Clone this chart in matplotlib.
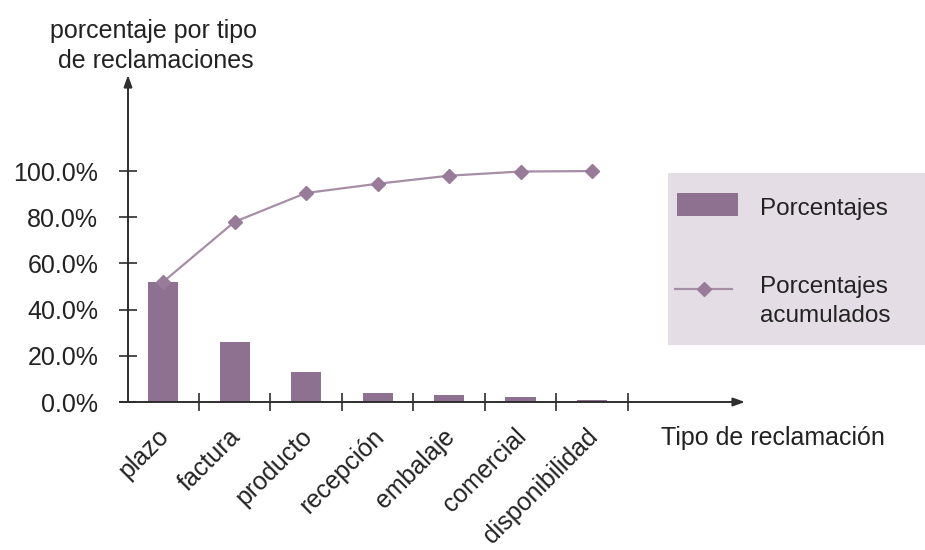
import matplotlib
matplotlib.use("Agg")
import matplotlib.pyplot as plt
from matplotlib.patches import Rectangle
from matplotlib.lines import Line2D
from matplotlib.transforms import ScaledTranslation
import numpy as np

plt.rcParams['font.family'] = ['Liberation Sans', 'DejaVu Sans']

categories = ["plazo", "factura", "producto", "recepción", "embalaje", "comercial", "disponibilidad"]
percentages = [52.0, 26.0, 13.0, 4.0, 3.0, 2.0, 1.0]
cumulative = [52.0, 78.0, 90.5, 94.5, 98.0, 99.8, 100.0]
y_ticks = [0, 20, 40, 60, 80, 100]
y_tick_labels = ["0.0%", "20.0%", "40.0%", "60.0%", "80.0%", "100.0%"]

bar_color = "#8e7191"
line_color = "#a78ea7"
marker_color = "#987a99"
axis_color = "#2e2e2e"
legend_bg = "#e5dde5"
text_color = "#222222"
fs = 18

W, H = 925, 550
fig = plt.figure(figsize=(W / 100, H / 100), dpi=100)

# axes placed in pixel terms: y axis at x=128, baseline at y=402, arrows ending at x=745 / y=75
left_px, right_px, bottom_px, top_px = 128, 745, 402, 75
ax = fig.add_axes([left_px / W, (H - bottom_px) / H, (right_px - left_px) / W, (bottom_px - top_px) / H])
x = np.arange(len(categories))
ax.set_xlim(-0.49, 8.14)
ax.set_ylim(0, 141.6)
for s in ax.spines.values():
    s.set_visible(False)
ax.patch.set_alpha(0)

ax.bar(x, percentages, width=0.42, color=bar_color, zorder=2)
ax.plot(x, cumulative, color=line_color, lw=1.6, marker="D", markersize=7,
        markerfacecolor=marker_color, markeredgecolor=marker_color, zorder=3)

# axes with arrows
arrow = dict(arrowstyle="-|>,head_length=0.7,head_width=0.25", color=axis_color, lw=1.4,
             shrinkA=0, shrinkB=0)
ax.annotate("", xy=(1.0, 0), xycoords="axes fraction", xytext=(-0.013, 0), arrowprops=arrow)
ax.annotate("", xy=(0, 1.0), xycoords="axes fraction", xytext=(0, 0), arrowprops=arrow)

# x ticks at category boundaries, labels at centres
ax.set_xticks(np.arange(len(categories)) + 0.5)
ax.set_xticklabels([])
ax.set_xticks(x, minor=True)
ax.set_xticklabels(categories, minor=True, rotation=45, ha="right", rotation_mode="anchor",
                   fontsize=fs, color=text_color)
ax.tick_params(axis="x", which="major", direction="inout", length=13, width=1.2, color=axis_color)
ax.tick_params(axis="x", which="minor", length=0, pad=16)
shift = ScaledTranslation(-6 / 100, 0, fig.dpi_scale_trans)
for lbl in ax.get_xticklabels(minor=True):
    lbl.set_transform(lbl.get_transform() + shift)

ax.set_yticks(y_ticks)
ax.set_yticklabels(y_tick_labels, fontsize=fs, color=text_color)
ax.tick_params(axis="y", direction="inout", length=13, width=1.2, color=axis_color, pad=15)

fig.text(154 / W, 1 - 38 / H, "porcentaje por tipo", ha="center", va="baseline",
         fontsize=fs, color=text_color)
fig.text(156 / W, 1 - 68 / H, "de reclamaciones", ha="center", va="baseline",
         fontsize=fs, color=text_color)
fig.text(661 / W, 1 - 445 / H, "Tipo de reclamación", ha="left", va="baseline",
         fontsize=fs, color=text_color)

# legend panel
fig.add_artist(Rectangle((668 / W, 1 - 345 / H), (W - 668) / W, (345 - 173) / H,
                         transform=fig.transFigure, facecolor=legend_bg, edgecolor="none"))
fig.add_artist(Rectangle((677 / W, 1 - 216 / H), 61 / W, 23 / H,
                         transform=fig.transFigure, facecolor=bar_color, edgecolor="none"))
fig.add_artist(Line2D([675 / W, 732 / W], [1 - 289 / H, 1 - 289 / H], transform=fig.transFigure,
                      color=line_color, lw=1.6))
fig.add_artist(Line2D([703.5 / W], [1 - 289 / H], transform=fig.transFigure, marker="D",
                      markersize=7, color=marker_color))
fig.text(760 / W, 1 - 215 / H, "Porcentajes", ha="left", va="baseline", fontsize=17.5, color=text_color)
fig.text(760 / W, 1 - 293 / H, "Porcentajes", ha="left", va="baseline", fontsize=17.5, color=text_color)
fig.text(760 / W, 1 - 322 / H, "acumulados", ha="left", va="baseline", fontsize=17.5, color=text_color)

fig.savefig("out.png", dpi=100, facecolor="white")
